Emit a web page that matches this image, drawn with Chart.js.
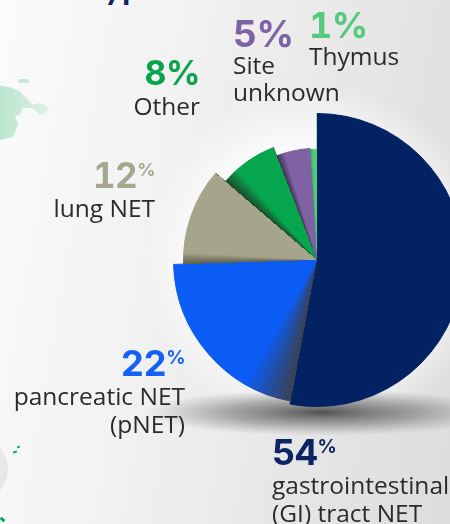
<!DOCTYPE html>
<html>
<head>
<meta charset="utf-8">
<script src="https://cdn.jsdelivr.net/npm/chart.js@4.4.1/dist/chart.umd.min.js"></script>
<style>
  html, body { margin: 0; padding: 0; }
  body { width: 450px; height: 524px; overflow: hidden; font-family: "Open Sans", "Noto Sans", sans-serif; }
  #stage {
    position: relative; width: 450px; height: 524px; overflow: hidden;
    background: linear-gradient(100deg, #fbfbfb 0%, #f2f2f2 35%, #e6e6e6 70%, #dcdcdc 100%);
  }
  #chart { position: absolute; left: 0; top: 0; }
  .pct, .txt { position: absolute; white-space: nowrap; }
  .pct { font-family: "Inter", "Lato", sans-serif; font-weight: 700; letter-spacing: -0.5px; font-feature-settings: "tnum" 1; }
  .txt { color: #2b2b2b; font-weight: 400; }
  .deco { position: absolute; }
  #title { position: absolute; left: 104px; top: -31px; font: 700 34px/34px "Lato", sans-serif; color: #0c2461; }
</style>
</head>
<body>
<div id="stage">
  <div id="title">ypes</div>
  <div class="deco" style="left:0;top:76px;width:52px;height:64px;
       background:linear-gradient(90deg, rgba(160,220,188,0.7), rgba(205,236,218,0.5));
       clip-path:polygon(0 15%,20% 18%,38% 24%,52% 35%,63% 45%,73% 42%,86% 45%,95% 53%,86% 58%,77% 61%,63% 50%,44% 50%,38% 61%,29% 62%,35% 76%,25% 95%,0 100%);"></div>
  <div class="deco" style="left:18px;top:79px;width:11px;height:4px;border-radius:3px;background:rgba(175,224,198,0.7);"></div>
  <div class="deco" style="left:-58px;top:436px;width:66px;height:66px;border-radius:50%;
       background:radial-gradient(circle at 30% 40%, #f4f4f4, #e2e2e2);"></div>
  <div class="deco" style="left:13px;top:451px;width:4px;height:2px;background:#0aa34f;transform:rotate(-20deg);"></div>
  <div class="deco" style="left:17px;top:446px;width:3px;height:2px;background:#0aa34f;transform:rotate(-30deg);"></div>
  <div class="deco" style="left:0;top:518px;width:5px;height:3px;background:#0aa34f;transform:rotate(40deg);"></div>
  <canvas id="chart" width="600" height="524"></canvas>
  <div id="labels"></div>
</div>
<script>
// NET primary sites, share of cases (percent as printed, so they sum to 102)
const categoryLines = [
  ["gastrointestinal", "(GI) tract NET"],
  ["pancreatic NET", "(pNET)"],
  ["lung NET"],
  ["Other"],
  ["Site", "unknown"],
  ["Thymus"]
]
const categories = categoryLines.map(lines => lines.join(" "))
const shares = [54, 22, 12, 8, 5, 1]

// styling
const sliceColors = ["#022263", "#0b5cf5", "#a6a48b", "#06a64f", "#7e62a3", "#52c97d"]
const shadeColors = ["#022263", "#3a4152", "#5f5e4c", "#1b4a2b", "#3f3252", "#3e9f62"]
const shadeSpan = [0, 0.055, 0.014, 0.022, 0.012, 0.004]
const radiusScale = [0.98, 0.96, 0.893, 0.807, 0.747, 0.74]
const pctColors = ["#0c2461", "#1560f5", "#a8a68e", "#0aa34f", "#7f62a5", "#57c97f"]

// label anchors: x edge, baselines of the percent line and of the first text line
const labelSpots = [
  { align: "left",  x: 272, pctBase: 465, textBase: 495, sup: true,  size: 36, lineH: 28 },
  { align: "right", x: 185, pctBase: 376, textBase: 406, sup: true,  size: 36, lineH: 28 },
  { align: "right", x: 155, pctBase: 188, textBase: 218, sup: true,  size: 35, lineH: 28 },
  { align: "right", x: 200, pctBase: 85,  textBase: 116, sup: false, size: 34, lineH: 28 },
  { align: "left",  x: 233, pctBase: 47,  textBase: 74,  sup: false, size: 37, lineH: 27 },
  { align: "left",  x: 309, pctBase: 38,  textBase: 66,  sup: false, size: 36, lineH: 28 }
]

const STAGE_W = 450
const TEXT_SIZE = 24.5
// vertical font metrics (ascent, content height) in em
const TEXT_FONT = { ascent: 1.069, content: 1.362 }  // Open Sans
const PCT_FONT = { ascent: 0.969, content: 1.21, cap: 0.727 }  // Inter

function baselineOffset(font, fontSize, lineHeight) {
  return (lineHeight - font.content * fontSize) / 2 + font.ascent * fontSize
}

function placeLabels() {
  const host = document.getElementById("labels")
  labelSpots.forEach((spot, i) => {
    const side = spot.align === "left" ? `left:${spot.x}px;` : `right:${STAGE_W - spot.x}px;text-align:right;`

    const pct = document.createElement("div")
    pct.className = "pct"
    const top = spot.pctBase - baselineOffset(PCT_FONT, spot.size, spot.size)
    pct.style.cssText = `${side}top:${top}px;font-size:${spot.size}px;line-height:${spot.size}px;color:${pctColors[i]};`
    if (spot.sup) {
      const supSize = Math.round(spot.size * 0.52)
      const lift = Math.round(PCT_FONT.cap * (spot.size - supSize))
      pct.innerHTML = `${shares[i]}<span style="font-size:${supSize}px;position:relative;top:-${lift}px;">%</span>`
    } else {
      pct.textContent = `${shares[i]}%`
    }
    host.appendChild(pct)

    const txt = document.createElement("div")
    txt.className = "txt"
    const ttop = spot.textBase - baselineOffset(TEXT_FONT, TEXT_SIZE, spot.lineH)
    txt.style.cssText = `${side}top:${ttop}px;font-size:${TEXT_SIZE}px;line-height:${spot.lineH}px;`
    txt.innerHTML = categoryLines[i].join("<br>")
    host.appendChild(txt)
  })
}

let cachedFill = null
function sliceFill(chart) {
  const area = chart.chartArea
  if (!area) return null
  const key = `${area.left},${area.top},${area.right},${area.bottom}`
  if (cachedFill && cachedFill.key === key) return cachedFill.grad

  const cx = (area.left + area.right) / 2
  const cy = (area.top + area.bottom) / 2
  const grad = chart.ctx.createConicGradient(-Math.PI / 2, cx, cy)
  const total = shares.reduce((a, b) => a + b, 0)
  let acc = 0
  shares.forEach((v, i) => {
    const a = acc / total
    const b = Math.min((acc + v) / total, 1)
    grad.addColorStop(a, shadeColors[i])
    grad.addColorStop(Math.min(b, a + shadeSpan[i]), sliceColors[i])
    grad.addColorStop(b, sliceColors[i])
    acc += v
  })
  cachedFill = { key, grad }
  return grad
}

// each slice gets its own outer radius (the "stepped" look of the original)
const steppedRadius = {
  id: "steppedRadius",
  afterDatasetUpdate(chart, args) {
    const meta = args.meta
    const base = meta.controller.outerRadius
    meta.data.forEach((arc, i) => {
      arc.outerRadius = base * (radiusScale[i] ?? 1)
    })
  }
}

// soft halo behind the pie and the floor shadow below it
const pieBackdrop = {
  id: "pieBackdrop",
  beforeDatasetsDraw(chart) {
    const meta = chart.getDatasetMeta(0)
    const R = meta.controller.outerRadius
    const arc = meta.data[0]
    if (!arc || !R) return
    const cx = arc.x
    const cy = arc.y
    const ctx = chart.ctx

    ctx.save()
    const halo = ctx.createRadialGradient(cx, cy, R * 0.8, cx, cy, R * 1.18)
    halo.addColorStop(0, "rgba(255,255,255,0.75)")
    halo.addColorStop(1, "rgba(255,255,255,0)")
    ctx.fillStyle = halo
    ctx.beginPath()
    ctx.arc(cx, cy, R * 1.18, 0, Math.PI * 2)
    ctx.fill()
    ctx.restore()

    ctx.save()
    ctx.translate(cx + 5, cy + R * 1.02)
    ctx.scale(1, 0.13)
    const shade = ctx.createRadialGradient(0, 0, 0, 0, 0, R * 1.2)
    shade.addColorStop(0, "rgba(55,55,55,0.85)")
    shade.addColorStop(0.55, "rgba(90,90,90,0.45)")
    shade.addColorStop(1, "rgba(120,120,120,0)")
    ctx.fillStyle = shade
    ctx.beginPath()
    ctx.arc(0, 0, R * 1.2, 0, Math.PI * 2)
    ctx.fill()
    ctx.restore()
  }
}

placeLabels()

const chart = new Chart(document.getElementById("chart"), {
  type: "pie",
  data: {
    labels: categories,
    datasets: [{
      data: shares,
      backgroundColor: ctx => sliceFill(ctx.chart) || sliceColors[ctx.dataIndex],
      borderColor: ctx => sliceFill(ctx.chart) || sliceColors[ctx.dataIndex],
      borderWidth: 1,
      hoverOffset: 0,
      offset: 0
    }]
  },
  options: {
    responsive: false,
    animation: false,
    events: [],
    layout: { padding: { left: 167, right: 133, top: 110, bottom: 114 } },
    plugins: {
      legend: { display: false },
      tooltip: { enabled: false }
    }
  },
  plugins: [steppedRadius, pieBackdrop]
})
chart.update()
</script>
</body>
</html>
